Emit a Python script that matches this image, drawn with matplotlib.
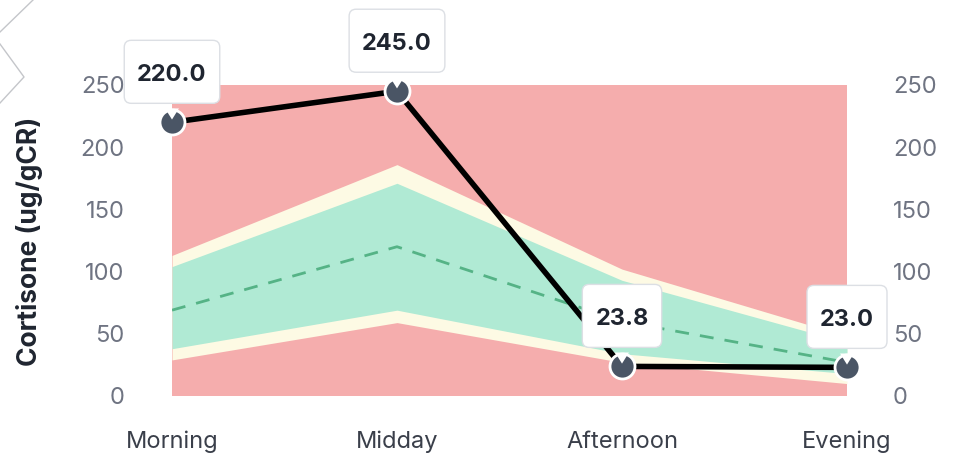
import matplotlib.pyplot as plt
from matplotlib.lines import Line2D
from matplotlib.patches import FancyBboxPatch
from matplotlib.transforms import ScaledTranslation

# data
times = ['Morning', 'Midday', 'Afternoon', 'Evening']
measured = [220.0, 245.0, 23.8, 23.0]
median = [69, 120, 60, 27]
normal_low = [38, 69, 34, 18]
normal_high = [104, 171, 93, 43]
border_low = [29, 59, 27, 10]
border_high = [113, 186, 102, 48]
range_low = [0, 0, 0, 0]
range_high = [250, 250, 250, 250]
yticks = [0, 50, 100, 150, 200, 250]

plt.rcParams['font.family'] = ['Inter', 'DejaVu Sans']

W, H = 957, 462
fig = plt.figure(figsize=(W / 100, H / 100), dpi=100)
ax = fig.add_axes([172 / W, (H - 396) / H, (847 - 172) / W, (396 - 85) / H])

x = list(range(len(times)))

ax.fill_between(x, range_low, range_high, color='#f5adad', lw=0, zorder=1)
ax.fill_between(x, border_low, border_high, color='#fdfae4', lw=0, zorder=2)
ax.fill_between(x, normal_low, normal_high, color='#b0ead4', lw=0, zorder=3)
ax.plot(x, median, color='#55b386', lw=2, dashes=(5, 4), zorder=4)

ax.plot(x, measured, color='black', lw=4, zorder=5, solid_capstyle='butt')
ax.plot(x, measured, ls='none', marker='o', ms=18, mfc='#4a5565',
        mec='white', mew=2, zorder=6, clip_on=False)

ax.set_xlim(0, 3)
ax.set_ylim(0, 250)
ax.set_xticks(x)
ax.set_xticklabels(times, fontsize=17, color='#3a3f4a')
ax.set_yticks(yticks)
ax.tick_params(axis='y', length=0, pad=34, labelsize=17, labelcolor='#6f7482')
ax.tick_params(axis='x', length=0, pad=25)
for s in ax.spines.values():
    s.set_visible(False)

ax2 = ax.twinx()
ax2.set_ylim(0, 250)
ax2.set_yticks(yticks)
ax2.tick_params(axis='y', length=0, pad=33, labelsize=17, labelcolor='#6f7482')
for s in ax2.spines.values():
    s.set_visible(False)

# tooltip boxes above each point (sizes in inches, placed at the data point)
fig.canvas.draw()
renderer = fig.canvas.get_renderer()
for xi, v in zip(x, measured):
    trans = fig.dpi_scale_trans + ScaledTranslation(xi, v, ax.transData)
    t = ax.text(0, 0.475, f'{v:.1f}', transform=trans, ha='center', va='center',
                fontsize=17, fontweight='bold', color='#1f2530', zorder=9,
                clip_on=False)
    tw = t.get_window_extent(renderer).width / fig.dpi + 0.26
    box = FancyBboxPatch((-tw / 2, 0.19), tw, 0.63,
                         boxstyle='round,pad=0,rounding_size=0.07',
                         fc='white', ec='#dcdfe4', lw=1, transform=trans,
                         zorder=8, clip_on=False)
    ax.add_patch(box)
    # pointer of the tooltip cutting into the top of the marker
    ax.annotate('', (xi, v), xytext=(0, 10), textcoords='offset points',
                zorder=7, annotation_clip=False,
                arrowprops=dict(arrowstyle='wedge,tail_width=1.0',
                                fc='white', ec='none', shrinkA=0, shrinkB=2))

fig.text(30 / W, 1 - 241 / H, 'Cortisone (ug/gCR)', rotation=90, ha='center',
         va='center', fontsize=19, fontweight='bold', color='#1f2530')

# faint decoration in the top left corner
for xs, ys in [([33, 0], [0, 32]), ([0, 24, 0], [44, 77, 103])]:
    fig.add_artist(Line2D([a / W for a in xs], [1 - b / H for b in ys],
                          color='#c4c6ca', lw=1))

fig.savefig('out.png', dpi=100)
